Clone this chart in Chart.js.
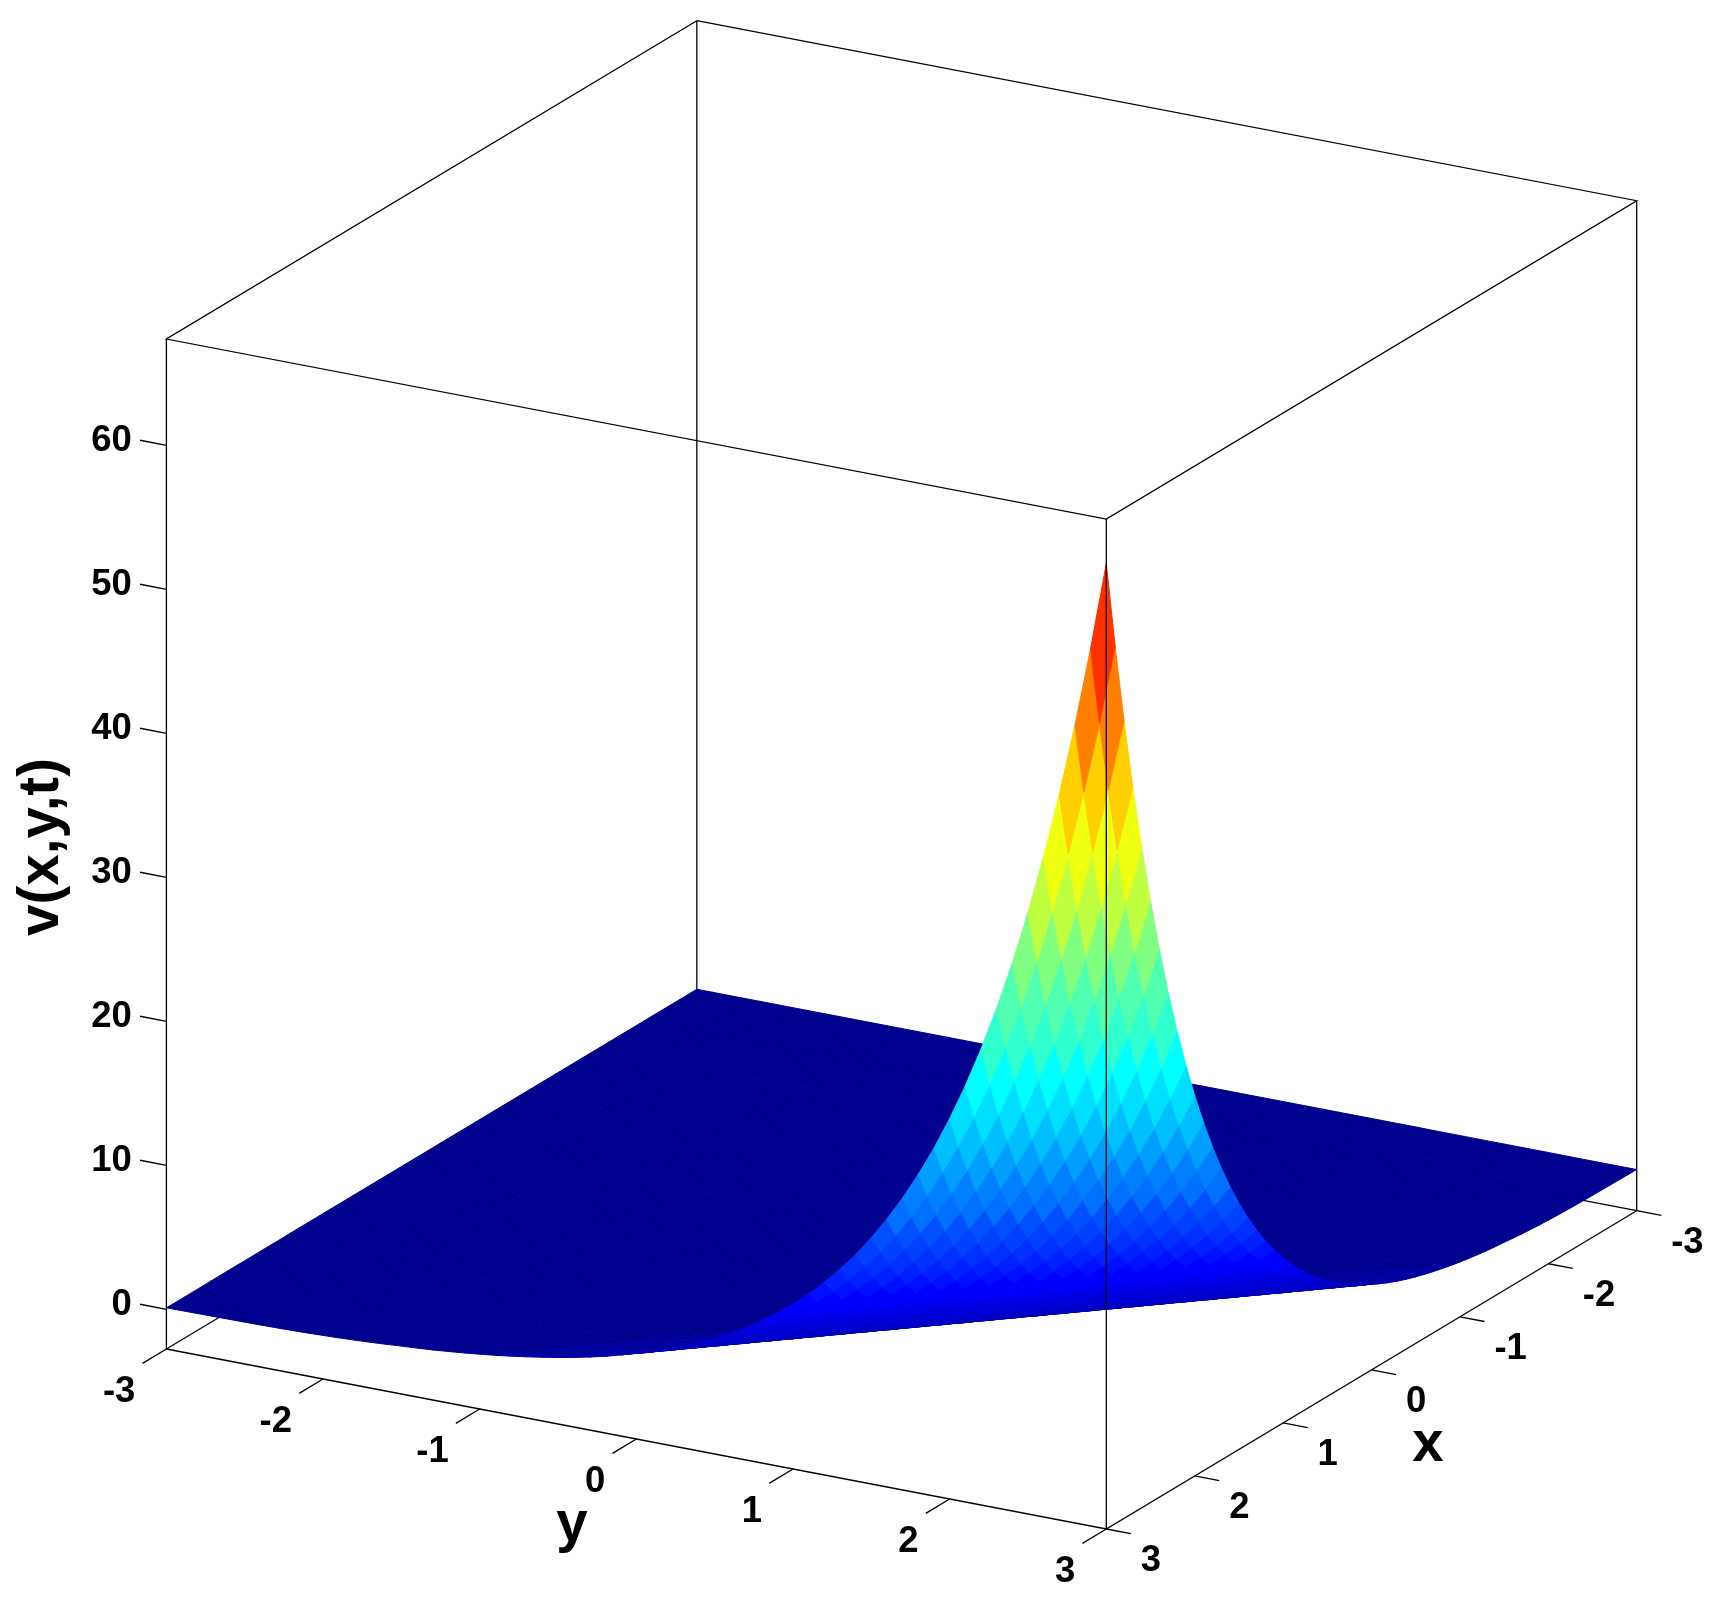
<!DOCTYPE html>
<html><head><meta charset="utf-8">
<style>html,body{margin:0;padding:0;background:#fff}#w{width:1731px;height:1601px;position:relative}</style>
<script src="https://cdn.jsdelivr.net/npm/chart.js@4"></script>
</head><body><div id="w"><canvas id="c"></canvas></div>
<script>
// ---- data ----
const xTicks = [-3,-2,-1,0,1,2,3];
const yTicks = [-3,-2,-1,0,1,2,3];
const zTicks = [0,10,20,30,40,50,60];
const xLimits = [-3,3];
const yLimits = [-3,3];
const zLimits = [-2.757,67.38];
const xTitle = 'x', yTitle = 'y', zTitle = 'v(x,y,t)';
const gridCount = 61;              // vertices per side, spacing 0.1
// surface height along the lines x+y = -6, -5.9, ... , 6
const surfaceHeights = [
0.12,0.12,0.12,0.12,0.12,0.12,0.12,0.12,0.12,0.12,
0.12,0.12,0.12,0.12,0.12,0.12,0.12,0.12,0.12,0.12,
0.12,0.12,0.12,0.12,0.12,0.12,0.12,0.12,0.12,0.12,
0.12,0.12,0.12,0.12,0.12,0.12,0.12,0.12,0.12,0.12,
0.12,0.12,0.12,0.12,0.12,0.12,0.12,0.11,0.11,0.11,
0.11,0.11,0.11,0.11,0.11,0.11,0.10,0.10,0.10,0.10,
0.10,0.11,0.12,0.13,0.14,0.15,0.16,0.18,0.20,0.23,
0.27,0.31,0.36,0.42,0.49,0.57,0.64,0.72,0.82,0.93,
1.05,1.18,1.33,1.49,1.67,1.86,2.07,2.31,2.57,2.87,
3.20,3.54,3.91,4.32,4.78,5.28,5.83,6.45,7.12,7.87,
8.70,9.62,10.63,11.75,12.98,14.35,15.86,17.53,19.37,21.40,
23.65,26.14,28.89,31.93,35.29,39.00,43.10,47.63,52.64,58.18,
64.30];
const colorMax = 64.3;

// ---- view: orthographic camera ----
const viewFront=[1106.3,1529], viewLeft=[166.4,1349], viewRight=[1636.7,1210.7], zPerUnit=14.4;
const ux=[(viewFront[0]-viewRight[0])/6,(viewFront[1]-viewRight[1])/6];
const uy=[(viewFront[0]-viewLeft[0])/6,(viewFront[1]-viewLeft[1])/6];
function project(x,y,z){
  return {x:viewFront[0]+(x-3)*ux[0]+(y-3)*uy[0],
          y:viewFront[1]+(x-3)*ux[1]+(y-3)*uy[1]-(z-zLimits[0])*zPerUnit};
}
function jet(z){
  let i=Math.min(63,Math.max(0,Math.floor(z/colorMax*64)))+1, t=i/64;
  const f=v=>Math.round(255*Math.max(0,Math.min(1,1.5-Math.abs(4*t-v))));
  return `rgb(${f(3)},${f(2)},${f(1)})`;
}
const [x0,x1]=xLimits,[y0,y1]=yLimits,[z0,z1]=zLimits;
const lineDs=(pts,w)=>({data:pts,showLine:true,borderColor:'#000',borderWidth:w||1.3,pointRadius:0,fill:false,tension:0});
const P=project;
// parts behind the surface
const behind=[
 [P(x0,y0,z1),P(x1,y0,z1),P(x1,y1,z1),P(x0,y1,z1),P(x0,y0,z1)],
 [P(x0,y0,z0),P(x0,y0,z1)],
 [P(x1,y0,z0),P(x1,y0,z1)],
 [P(x0,y1,z0),P(x0,y1,z1)],
 [P(x1,y0,z0),P(x0,y0,z0),P(x0,y1,z0)],
 [P(x1,y0,z0),P(x1,y1,z0),P(x0,y1,z0)]
];
zTicks.forEach(v=>behind.push([P(x1,y0,v),P(x1,y0-0.168,v)]));
xTicks.forEach(v=>behind.push([P(v,y1,z0),P(v,y1+0.157,z0)]));
yTicks.forEach(v=>behind.push([P(x1,v,z0),P(x1+0.27,v,z0)]));

// surface: one polygon per x+y band, back to front
const n=gridCount-1, h=(x1-x0)/n;
const vtx=(i,j)=>P(x0+i*h,y0+j*h,surfaceHeights[i+j]);
const bands=[];
for(let k=0;k<=2*n-2;k++){
  const iA=Math.max(0,k-(n-1)), iB=Math.min(n-1,k), out=[];
  for(let i=iA;i<=iB;i++){const j=k-i; out.push(vtx(i,j+1),vtx(i,j));}
  out.push(vtx(iB+1,k-iB));
  for(let i=iB;i>=iA;i--){const j=k-i; out.push(vtx(i+1,j+1),vtx(i,j+1));}
  const c=jet(surfaceHeights[k]);
  bands.push({data:out,showLine:true,borderColor:c,backgroundColor:c,borderWidth:1,pointRadius:0,fill:'shape',tension:0});
}
const front=[lineDs([P(x1,y1,z0),P(x1,y1,z1)])];
// first dataset in the list is painted last
const datasets=[...front,...bands.slice().reverse(),...behind.map(p=>lineDs(p))];

const labels={
 id:'labels',
 afterDraw(chart){
  const c=chart.ctx,sx=chart.scales.x,sy=chart.scales.y;
  const at=p=>[sx.getPixelForValue(p.x),sy.getPixelForValue(p.y)];
  c.save();c.fillStyle='#000';c.textBaseline='middle';
  c.font='bold 36.5px "Liberation Sans",Arial,sans-serif';
  c.textAlign='right';
  zTicks.forEach(v=>{const [a,b]=at(P(x1,y0,v));c.fillText(String(v),a-34.5,b-4);});
  yTicks.forEach(v=>{const [a,b]=at(P(x1,v,z0));c.fillText(String(v),a-31,b+43);});
  c.textAlign='left';
  xTicks.forEach(v=>{const [a,b]=at(P(v,y1,z0));c.fillText(String(v),a+34.5,b+32);});
  c.textAlign='center';
  c.font='bold 56.5px "Liberation Sans",Arial,sans-serif';
  c.fillText(xTitle,1428,1445);
  c.fillText(yTitle,572,1525);
  c.translate(42,847);c.rotate(-Math.PI/2);c.fillText(zTitle,0,0);
  c.restore();
 }
};
new Chart(document.getElementById('c'),{
 type:'scatter',
 data:{datasets},
 options:{responsive:true,maintainAspectRatio:false,animation:false,events:[],
  layout:{padding:0},
  plugins:{legend:{display:false},tooltip:{enabled:false},title:{display:false}},
  scales:{x:{type:'linear',min:0,max:1731,display:false},
          y:{type:'linear',min:0,max:1601,reverse:true,display:false}}},
 plugins:[labels]
});
</script></body></html>
